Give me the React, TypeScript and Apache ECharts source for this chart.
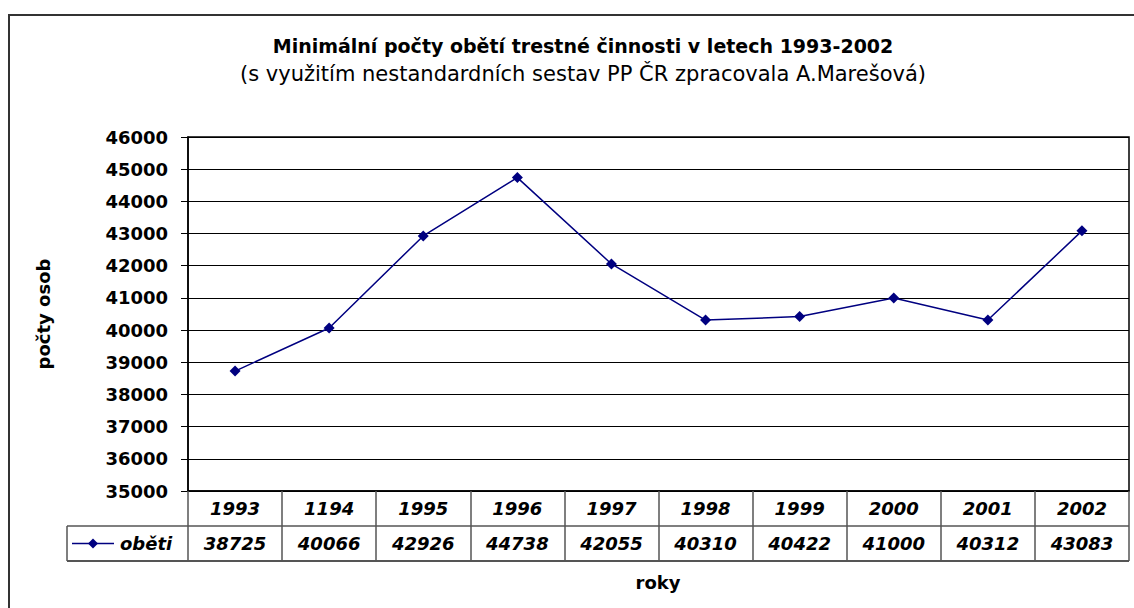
import React, { useEffect, useRef } from "react";
import * as echarts from "echarts";

const years = ["1993", "1194", "1995", "1996", "1997", "1998", "1999", "2000", "2001", "2002"];
const obeti = [38725, 40066, 42926, 44738, 42055, 40310, 40422, 41000, 40312, 43083];
const seriesName = "oběti";
const titleText = "Minimální počty obětí trestné činnosti v letech 1993-2002";
const subtitleText = "(s využitím nestandardních sestav PP ČR zpracovala A.Marešová)";
const yAxisName = "počty osob";
const xAxisName = "roky";

const W = 1134;
const H = 608;
const GL = 188;
const GR = 1129;
const GT = 137;
const GB = 491;
const ROW = 35;
const FONT = "'DejaVu Sans', Arial, sans-serif";
const NAVY = "#000080";
const TBL = "#555";

export default function App() {
  const ref = useRef<HTMLDivElement>(null);
  useEffect(() => {
    if (!ref.current) return;
    const chart = echarts.init(ref.current, null, { renderer: "svg" });
    const colW = (GR - GL) / years.length;
    const graphics: any[] = [];
    graphics.push({
      type: "rect",
      shape: { x: 9, y: 15, width: W, height: H },
      style: { fill: "none", stroke: "#333", lineWidth: 2 },
      silent: true,
    });
    graphics.push({
      type: "line",
      shape: { x1: 67, y1: GB + ROW, x2: GR, y2: GB + ROW },
      style: { stroke: TBL, lineWidth: 1.5 },
    });
    graphics.push({
      type: "line",
      shape: { x1: 67, y1: GB + 2 * ROW, x2: GR, y2: GB + 2 * ROW },
      style: { stroke: TBL, lineWidth: 2 },
    });
    graphics.push({
      type: "line",
      shape: { x1: 67, y1: GB + ROW, x2: 67, y2: GB + 2 * ROW },
      style: { stroke: TBL, lineWidth: 1.5 },
    });
    graphics.push({
      type: "line",
      shape: { x1: 72, y1: GB + ROW * 1.5, x2: 114, y2: GB + ROW * 1.5 },
      style: { stroke: NAVY, lineWidth: 1.5 },
    });
    graphics.push({
      type: "polygon",
      shape: {
        points: [
          [93, GB + ROW * 1.5 - 5],
          [98, GB + ROW * 1.5],
          [93, GB + ROW * 1.5 + 5],
          [88, GB + ROW * 1.5],
        ],
      },
      style: { fill: NAVY },
    });
    graphics.push({
      type: "text",
      style: {
        text: seriesName,
        x: 120,
        y: GB + ROW * 1.5,
        textVerticalAlign: "middle",
        textAlign: "left",
        font: "italic bold 18px " + FONT,
        fill: "#000",
      },
    });
    years.forEach((y, i) => {
      const cx = GL + colW * (i + 0.5);
      graphics.push({
        type: "text",
        style: {
          text: y,
          x: cx,
          y: GB + ROW * 0.5,
          textAlign: "center",
          textVerticalAlign: "middle",
          font: "italic bold 18px " + FONT,
          fill: "#000",
        },
      });
      graphics.push({
        type: "text",
        style: {
          text: String(obeti[i]),
          x: cx,
          y: GB + ROW * 1.5,
          textAlign: "center",
          textVerticalAlign: "middle",
          font: "italic bold 18px " + FONT,
          fill: "#000",
        },
      });
    });
    graphics.push({
      type: "text",
      style: {
        text: xAxisName,
        x: 658,
        y: 582,
        textAlign: "center",
        textVerticalAlign: "middle",
        font: "bold 18px " + FONT,
        fill: "#000",
      },
    });

    chart.setOption({
      animation: false,
      title: {
        text: titleText,
        subtext: subtitleText,
        left: 578,
        top: 31,
        textAlign: "center",
        itemGap: 8,
        textStyle: { fontFamily: FONT, fontWeight: "bold", fontSize: 19, color: "#000" },
        subtextStyle: { fontFamily: FONT, fontWeight: "normal", fontSize: 21, color: "#000" },
      },
      grid: {
        left: GL,
        right: W - GR,
        top: GT,
        bottom: H - GB,
        show: true,
        borderColor: "#000",
        borderWidth: 1.5,
      },
      xAxis: {
        type: "category",
        data: years,
        boundaryGap: true,
        axisLine: { lineStyle: { color: "#000", width: 1.5 } },
        axisTick: { show: true, length: ROW * 2, lineStyle: { color: TBL, width: 1.5 } },
        axisLabel: { show: false },
        splitLine: { show: false },
      },
      yAxis: {
        type: "value",
        min: 35000,
        max: 46000,
        interval: 1000,
        name: yAxisName,
        nameLocation: "middle",
        nameGap: 136,
        nameRotate: 90,
        nameTextStyle: { fontFamily: FONT, fontWeight: "bold", fontSize: 18, color: "#000" },
        axisLine: { show: true, lineStyle: { color: "#000", width: 1.5 } },
        axisTick: { show: true, length: 7, lineStyle: { color: "#000" } },
        axisLabel: {
          margin: 20,
          fontFamily: FONT,
          fontWeight: "bold",
          fontSize: 18,
          color: "#000",
          formatter: (v: number) => String(v),
        },
        splitLine: { show: true, lineStyle: { color: "#000", width: 1 } },
      },
      series: [
        {
          name: seriesName,
          type: "line",
          data: obeti,
          symbol: "diamond",
          symbolSize: 11,
          lineStyle: { color: NAVY, width: 1.5 },
          itemStyle: { color: NAVY },
        },
      ],
      graphic: graphics,
    });
    return () => chart.dispose();
  }, []);
  return <div ref={ref} style={{ width: W, height: H, position: "absolute", left: 0, top: 0 }} />;
}
